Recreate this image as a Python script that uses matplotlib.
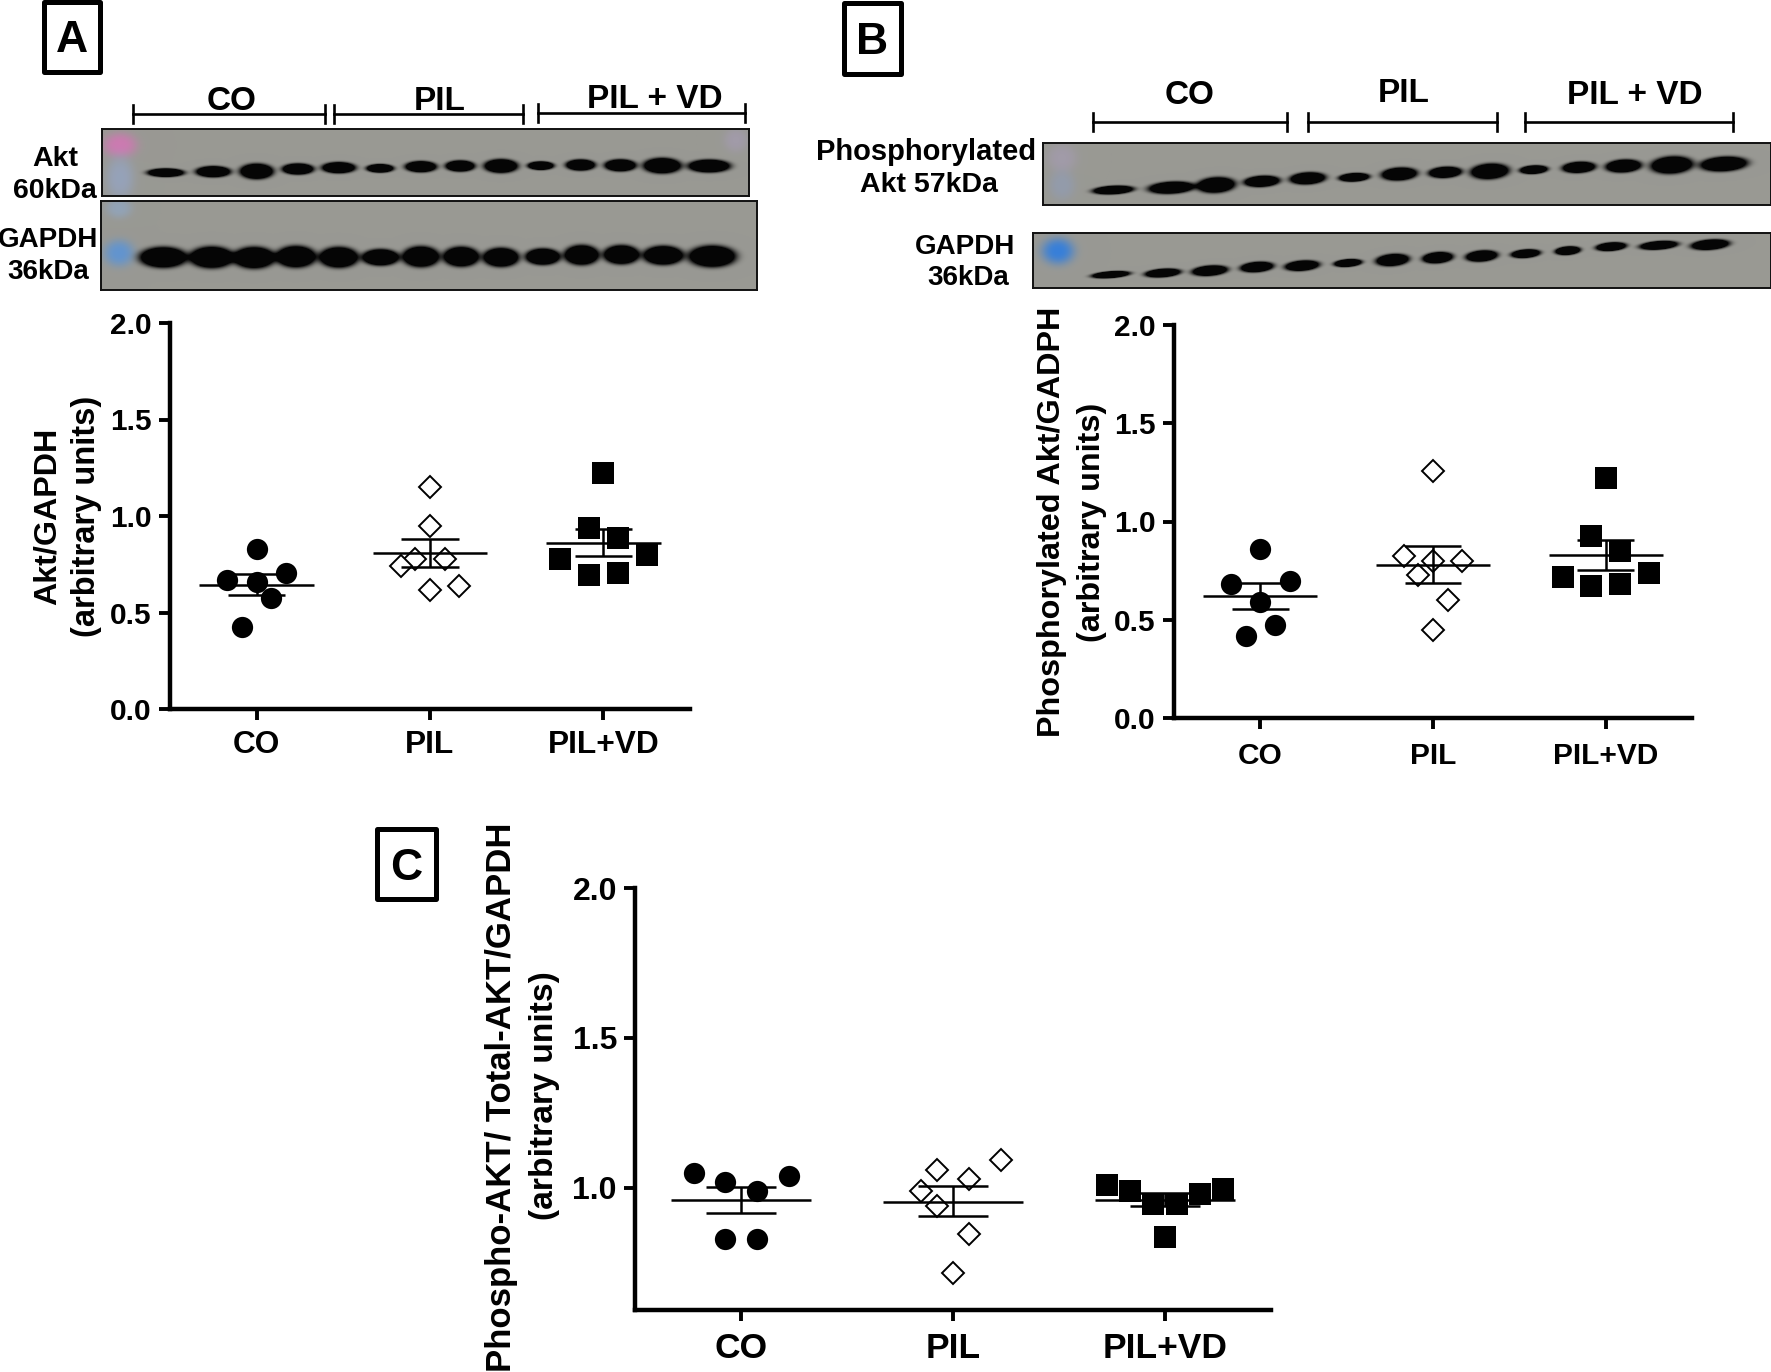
import numpy as np
import matplotlib
matplotlib.use("Agg")
import matplotlib.pyplot as plt
from matplotlib.lines import Line2D
from matplotlib.patches import Rectangle

plt.rcParams['font.family'] = ['Liberation Sans', 'DejaVu Sans']
plt.rcParams['font.weight'] = 'bold'

W, H = 1771, 1372
categories = ["CO", "PIL", "PIL+VD"]
y_ticks_full = [0.0, 0.5, 1.0, 1.5, 2.0]
y_ticks_c = [1.0, 1.5, 2.0]

# Panel A
a_co_x = [0, -0.17, 0, 0.17, 0.085, -0.085]
a_co = [0.827, 0.668, 0.657, 0.706, 0.576, 0.427]
a_pil_x = [0, 0, -0.085, 0.085, -0.17, 0.17, 0]
a_pil = [1.149, 0.948, 0.779, 0.779, 0.739, 0.638, 0.619]
a_vd_x = [0, -0.085, 0.085, -0.25, 0.25, -0.085, 0.085]
a_vd = [1.221, 0.939, 0.887, 0.775, 0.80, 0.695, 0.706]
a_mean = [0.643, 0.81, 0.862]
a_upper = [0.697, 0.88, 0.933]
a_lower = [0.592, 0.737, 0.792]

# Panel B
b_co_x = [0, -0.17, 0.17, 0, 0.085, -0.085]
b_co = [0.86, 0.68, 0.697, 0.588, 0.475, 0.417]
b_pil_x = [0, -0.17, 0, 0.17, -0.085, 0.085, 0]
b_pil = [1.257, 0.826, 0.80, 0.80, 0.729, 0.598, 0.448]
b_vd_x = [0, -0.085, 0.085, -0.25, 0.25, -0.085, 0.085]
b_vd = [1.221, 0.928, 0.85, 0.717, 0.738, 0.67, 0.68]
b_mean = [0.622, 0.779, 0.83]
b_upper = [0.685, 0.874, 0.905]
b_lower = [0.555, 0.685, 0.753]

# Panel C
c_co_x = [-0.224, -0.074, 0.076, 0.226, -0.074, 0.076]
c_co = [1.05, 1.019, 0.99, 1.041, 0.829, 0.829]
c_pil_x = [0.226, -0.074, 0.076, -0.15, -0.074, 0.076, 0]
c_pil = [1.093, 1.061, 1.03, 0.99, 0.939, 0.848, 0.716]
c_vd_x = [-0.275, -0.165, -0.055, 0.055, 0.165, 0.275, 0]
c_vd = [1.01, 0.99, 0.947, 0.947, 0.98, 0.997, 0.838]
c_mean = [0.961, 0.953, 0.961]
c_upper = [1.004, 1.006, 0.983]
c_lower = [0.917, 0.907, 0.939]

# Blot band sketches: centre x, centre y, half width, half height (crop coordinates)
blot_a1 = [(325,518,35,10),(418,515,33,13),(503,514,32,18),(584,507,30,13),(664,503,32,13),
           (745,505,26,10),(825,500,30,13),(902,498,28,13),(982,498,32,16),(1060,497,25,10),
           (1138,495,28,13),(1216,496,30,14),(1298,497,36,18),(1390,498,40,15)]
blot_a2 = [(320,772,45,24),(415,772,42,25),(498,773,40,25),(580,770,38,25),(664,772,37,24),
           (746,772,35,19),(825,770,35,24),(904,770,34,23),(982,772,34,22),(1064,770,33,19),
           (1140,765,33,23),(1218,764,34,22),(1300,766,38,22),(1396,769,45,25)]
blot_b1 = [(506,570,32,10),(600,563,36,14),(672,555,30,18),(746,544,28,13),(820,535,28,14),
           (895,532,24,10),(968,522,28,15),(1042,517,26,13),(1114,514,30,18),(1185,509,22,10),
           (1258,502,26,13),(1330,498,28,15),(1408,495,33,20),(1492,492,37,17)]
blot_b2 = [(502,824,30,8),(586,819,28,10),(662,812,28,12),(738,801,26,12),(811,797,27,12),
           (885,789,22,9),(957,780,26,14),(1030,773,24,13),(1101,768,25,13),(1172,761,23,10),
           (1240,752,20,10),(1310,740,24,10),(1387,736,30,10),(1470,734,30,12)]

fig = plt.figure(figsize=(W / 100, H / 100), dpi=100, facecolor='white')


def fx(x):
    return x / W


def fy(y):
    return 1 - y / H


def text(x, y, s, size, rot=0):
    fig.text(fx(x), fy(y), s, fontsize=size, ha='center', va='center',
             rotation=rot, fontweight='bold', color='black', zorder=5)


def blot(box, bands, sx, ox, ladder, tilt=0.0, bg=(0.60, 0.60, 0.58)):
    x0, y0, x1, y1 = box
    ax = fig.add_axes([fx(x0), fy(y1), (x1 - x0) / W, (y1 - y0) / H])
    X, Y = np.meshgrid(np.arange(x0, x1) + 0.5, np.arange(y0, y1) + 0.5)
    img = np.ones(X.shape + (3,)) * np.array(bg)
    for (lx, ly, lw, lh, col, amt) in ladder:
        g = amt * np.exp(-(((X - lx) / lw) ** 2 + ((Y - ly) / lh) ** 2) ** 1.5)
        img = img * (1 - g[..., None]) + np.array(col) * g[..., None]
    dark = np.zeros(X.shape)
    for (cx, cy, hw, hh) in bands:
        px, py = ox + cx / sx, cy / 3.0
        hw, hh = hw / sx, hh / 3.0 * 1.25
        dy = (Y - py) + tilt * (X - px)
        dark += np.exp(-(((X - px) / hw) ** 2 + (dy / hh) ** 2) ** 2)
    dark = np.clip(dark * 2.2, 0, 1)[..., None]
    img = img * (1 - dark) + 0.02 * dark
    ax.imshow(img, aspect='auto', interpolation='bilinear')
    ax.set_xticks([])
    ax.set_yticks([])
    for s in ax.spines.values():
        s.set_linewidth(1.4)
        s.set_color('#111111')


pink = (0.85, 0.45, 0.72)
lav = (0.68, 0.62, 0.78)
blot((102, 129, 749, 196), blot_a1, 1.96, 0,
     [(120, 145, 17, 12, pink, 0.8), (120, 178, 14, 22, (0.58, 0.66, 0.82), 0.6),
      (736, 140, 12, 12, lav, 0.4)])
blot((101, 201, 757, 290), blot_a2, 1.96, 0,
     [(119, 253, 15, 13, (0.35, 0.58, 0.85), 0.85), (119, 208, 13, 10, (0.55, 0.68, 0.85), 0.5)])
blot((1043, 143, 1771, 205), blot_b1, 1.615, 800,
     [(1062, 158, 15, 14, lav, 0.4), (1062, 185, 13, 15, (0.55, 0.62, 0.78), 0.45)], tilt=0.05)
blot((1033, 233, 1771, 288), blot_b2, 1.615, 800,
     [(1058, 251, 16, 13, (0.22, 0.50, 0.85), 1.0)], tilt=0.07)


def bracket(x0, x1, y, hh=9):
    for xs, ys in [((x0, x1), (y, y)), ((x0, x0), (y - hh, y + hh)), ((x1, x1), (y - hh, y + hh))]:
        fig.add_artist(Line2D([fx(v) for v in xs], [fy(v) for v in ys], color='black', lw=1.9,
                              transform=fig.transFigure))


for x0, x1, y in [(133, 325, 114), (334, 523, 114), (538, 745, 113),
                  (1093, 1287, 122), (1308, 1497, 122), (1525, 1733, 122)]:
    bracket(x0, x1, y)

for x, y, s in [(232, 102, "CO"), (440, 102, "PIL"), (655, 100, "PIL + VD"),
                (1190, 96, "CO"), (1404, 94, "PIL"), (1635, 96, "PIL + VD")]:
    text(x, y, s, 24)

for x, y, s, z in [(55, 159, "Akt", 20.5), (55, 191, "60kDa", 20.5), (48, 240, "GAPDH", 20), (48, 272, "36kDa", 20),
                   (926, 152, "Phosphorylated", 21), (929, 185, "Akt 57kDa", 20.5),
                   (965, 247, "GAPDH", 20), (968, 278, "36kDa", 20)]:
    text(x, y, s, z)

for (x0, y0, x1, y1, s) in [(44, 2, 100, 72, "A"), (844, 3, 901, 74, "B"), (377, 829, 436, 899, "C")]:
    fig.add_artist(Rectangle((fx(x0), fy(y1)), (x1 - x0) / W, (y1 - y0) / H, fill=False, ec='black',
                             lw=3.6, transform=fig.transFigure, joinstyle='round'))
    text((x0 + x1) / 2, (y0 + y1) / 2 + 4, s, 32)


def panel(box, ylim, yticks, groups, means, uppers, lowers, xsize, ysize, xpad):
    x0, y0, x1, y1 = box
    ax = fig.add_axes([fx(x0), fy(y1), (x1 - x0) / W, (y1 - y0) / H])
    ax.set_xlim(-0.5, 2.5)
    ax.set_ylim(*ylim)
    styles = [dict(marker='o', ms=15.3, mfc='black', mec='black', mew=0),
              dict(marker='D', ms=10.8, mfc='white', mec='black', mew=1.4),
              dict(marker='s', ms=15.3, mfc='black', mec='black', mew=0)]
    for i, (xs, ys) in enumerate(groups):
        ax.plot(i + np.array(xs), ys, ls='none', clip_on=False, zorder=2, **styles[i])
        ax.hlines(means[i], i - 0.33, i + 0.33, color='black', lw=1.8, zorder=3)
        ax.hlines([uppers[i], lowers[i]], i - 0.165, i + 0.165, color='black', lw=1.8, zorder=3)
        ax.vlines(i, lowers[i], uppers[i], color='black', lw=1.8, zorder=3)
    for s in ('top', 'right'):
        ax.spines[s].set_visible(False)
    for s in ('left', 'bottom'):
        ax.spines[s].set_linewidth(3.2)
    ax.set_xticks(range(3), categories)
    ax.set_yticks(yticks, [f"{t:.1f}" for t in yticks])
    ax.tick_params(axis='both', width=2.8, length=8)
    ax.tick_params(axis='x', pad=xpad, labelsize=xsize)
    ax.tick_params(axis='y', pad=5, labelsize=ysize)
    return ax


panel((170, 323, 690, 709), (0, 2), y_ticks_full,
      [(a_co_x, a_co), (a_pil_x, a_pil), (a_vd_x, a_vd)], a_mean, a_upper, a_lower, 22.8, 21.5, 7)
panel((1174, 325, 1692, 718), (0, 2), y_ticks_full,
      [(b_co_x, b_co), (b_pil_x, b_pil), (b_vd_x, b_vd)], b_mean, b_upper, b_lower, 21.5, 21.5, 9)
panel((635, 888, 1271, 1310), (0.593, 2), y_ticks_c,
      [(c_co_x, c_co), (c_pil_x, c_pil), (c_vd_x, c_vd)], c_mean, c_upper, c_lower, 25.5, 23, 8)

text(48, 516, "Akt/GAPDH", 23.2, 90)
text(87, 516, "(arbitrary units)", 23.5, 90)
text(1052, 522, "Phosphorylated Akt/GADPH", 23.3, 90)
text(1092, 522, "(arbitrary units)", 23.3, 90)
text(502, 1097, "Phospho-AKT/ Total-AKT/GAPDH", 25, 90)
text(545, 1096, "(arbitrary units)", 24.2, 90)

fig.savefig("out.png", dpi=100, facecolor='white')
